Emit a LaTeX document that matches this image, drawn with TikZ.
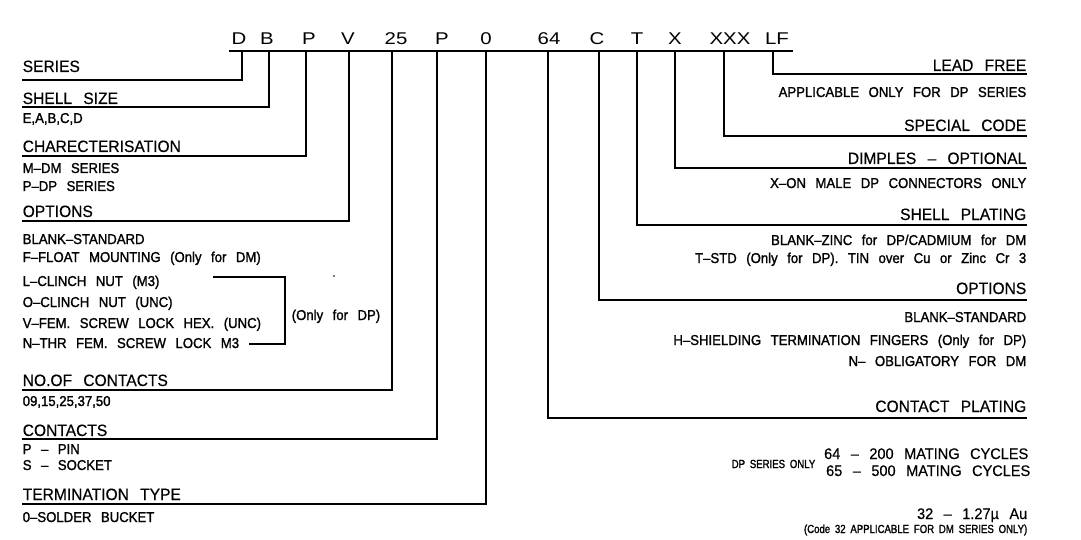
\documentclass[tikz,border=0pt]{standalone}
\usepackage{fontspec}
\setmainfont{Liberation Sans}[WordSpace=2.6]
\newfontfamily\partfont{Liberation Sans}[FakeStretch=1.2]
\newfontfamily\headfont{Liberation Sans}[FakeBold=0.4,FakeStretch=0.95,WordSpace=2.6]
\newfontfamily\entryfont{Liberation Sans}[FakeBold=1.4,FakeStretch=0.92,WordSpace=2.6]
\newfontfamily\finefont{Liberation Sans}[FakeBold=1.5,FakeStretch=0.82,WordSpace=1.8]
\tikzset{
  partno/.style={font=\partfont\fontsize{17}{17}\selectfont, inner sep=0pt, text depth=6pt, anchor=base},
  heading/.style={font=\headfont\fontsize{16.4}{16.4}\selectfont, inner sep=0pt},
  cycles/.style={font=\headfont\fontsize{15.3}{15.3}\selectfont, inner sep=0pt},
  entry/.style={font=\entryfont\fontsize{14.3}{14.3}\selectfont, inner sep=0pt},
  fine/.style={font=\finefont\fontsize{11.7}{11.7}\selectfont, inner sep=0pt},
  lt/.style={anchor=base west},
  rt/.style={anchor=base east},
}
\begin{document}
\begin{tikzpicture}[x=1pt, y=-1pt, line width=1.5pt]
  \useasboundingbox (0,0) rectangle (1081,540);

  % part number
  \node[partno] (cD) at (239,45) {D};
  \node[partno] (cB) at (267,45) {B};
  \node[partno] (cP) at (309,45) {P};
  \node[partno] (cV) at (348,45) {V};
  \node[partno] (c25) at (396,45) {25};
  \node[partno] (cP2) at (442,45) {P};
  \node[partno] (c0) at (486,45) {0};
  \node[partno] (c64) at (549,45) {64};
  \node[partno] (cC) at (597,45) {C};
  \node[partno] (cT) at (637,45) {T};
  \node[partno] (cX) at (675,45) {X};
  \node[partno] (cXXX) at (730,45) {XXX};
  \node[partno] (cLF) at (777,45) {LF};
  \coordinate (barL) at (229,51);
  \coordinate (barR) at (793,51);
  \draw (barL) -- (barR);

  % left side
  \node[heading, lt] (series) at (22,72) {SERIES};
  \node[heading, lt] (shell) at (22,104) {SHELL SIZE};
  \node[entry, lt] (shellv) at (22,123) {E,A,B,C,D};
  \node[heading, lt] (charac) at (22,152) {CHARECTERISATION};
  \node[entry, lt] (characm) at (22,173) {M–DM SERIES};
  \node[entry, lt] (characp) at (22,191) {P–DP SERIES};
  \node[heading, lt] (optl) at (22,217) {OPTIONS};
  \node[entry, lt] (optblank) at (22,244) {BLANK–STANDARD};
  \node[entry, lt] (optf) at (22,262) {F–FLOAT MOUNTING (Only for DM)};
  \node[entry, lt] (optl1) at (22,286) {L–CLINCH NUT (M3)};
  \node[entry, lt] (opto) at (22,307) {O–CLINCH NUT (UNC)};
  \node[entry, lt] (optv) at (22,328) {V–FEM. SCREW LOCK HEX. (UNC)};
  \node[entry, lt] (optn) at (22,348) {N–THR FEM. SCREW LOCK M3};
  \node[entry, lt] (onlydp) at (291,320) {(Only for DP)};
  \node[heading, lt] (nocont) at (22,386) {NO.OF CONTACTS};
  \node[entry, lt] (nocontv) at (22,406) {09,15,25,37,50};
  \node[heading, lt] (cont) at (22,436) {CONTACTS};
  \node[entry, lt] (contp) at (22,454) {P – PIN};
  \node[entry, lt] (conts) at (22,470) {S – SOCKET};
  \node[heading, lt] (term) at (22,500) {TERMINATION TYPE};
  \node[entry, lt] (termv) at (22,522) {0–SOLDER BUCKET};

  \coordinate (uSeries) at (22,80);
  \coordinate (uShell) at (22,107);
  \coordinate (uCharac) at (22,156);
  \coordinate (uOptL) at (22,221);
  \coordinate (uNoCont) at (22,390);
  \coordinate (uCont) at (22,439);
  \coordinate (uTerm) at (22,504);

  \draw ([xshift=3pt]cD.south) |- (uSeries);
  \draw ([xshift=2pt]cB.south) |- (uShell);
  \draw ([xshift=-3pt]cP.south) |- (uCharac);
  \draw ([xshift=1pt]cV.south) |- (uOptL);
  \draw ([xshift=-4pt]c25.south) |- (uNoCont);
  \draw ([xshift=-5pt]cP2.south) |- (uCont);
  \draw (c0.south) |- (uTerm);

  \coordinate (brA) at (213,277);
  \coordinate (brB) at (285,344);
  \coordinate (brC) at (249,344);
  \draw (brA) -| (brB) -- (brC);
  \fill (334,276) circle[radius=0.8pt];

  % right side
  \node[heading, rt] (lead) at (1027,71) {LEAD FREE};
  \node[entry, rt] (leadv) at (1027,97) {APPLICABLE ONLY FOR DP SERIES};
  \node[heading, rt] (special) at (1027,131) {SPECIAL CODE};
  \node[heading, rt] (dimples) at (1027,164) {DIMPLES – OPTIONAL};
  \node[entry, rt] (dimplesv) at (1027,188) {X–ON MALE DP CONNECTORS ONLY};
  \node[heading, rt] (plating) at (1027,220) {SHELL PLATING};
  \node[entry, rt] (platingb) at (1027,245) {BLANK–ZINC for DP/CADMIUM for DM};
  \node[entry, rt] (platingt) at (1027,263) {T–STD (Only for DP). TIN over Cu or Zinc Cr 3};
  \node[heading, rt] (optr) at (1027,294) {OPTIONS};
  \node[entry, rt] (optrb) at (1027,322) {BLANK–STANDARD};
  \node[entry, rt] (optrh) at (1027,345) {H–SHIELDING TERMINATION FINGERS (Only for DP)};
  \node[entry, rt] (optrn) at (1027,366) {N– OBLIGATORY FOR DM};
  \node[heading, rt] (cplating) at (1027,412) {CONTACT PLATING};
  \node[fine, rt] (dponly) at (816,468) {DP SERIES ONLY};
  \node[cycles, rt] (c64v) at (1029,459) {64 – 200 MATING CYCLES};
  \node[cycles, rt] (c65v) at (1031,476) {65 – 500 MATING CYCLES};
  \node[cycles, rt] (c32v) at (1028,519) {32 – 1.27µ Au};
  \node[fine, rt] (c32n) at (1028,533) {(Code 32 APPLICABLE FOR DM SERIES ONLY)};

  \coordinate (uLead) at (1027,74);
  \coordinate (uSpecial) at (1027,136);
  \coordinate (uDimples) at (1027,168);
  \coordinate (uPlating) at (1027,225);
  \coordinate (uOptR) at (1027,300);
  \coordinate (uCPlating) at (1027,418);

  \draw ([xshift=-4pt]cLF.south) |- (uLead);
  \draw ([xshift=-6pt]cXXX.south) |- (uSpecial);
  \draw (cX.south) |- (uDimples);
  \draw (cT.south) |- (uPlating);
  \draw ([xshift=2pt]cC.south) |- (uOptR);
  \draw ([xshift=-1pt]c64.south) |- (uCPlating);
\end{tikzpicture}
\end{document}
